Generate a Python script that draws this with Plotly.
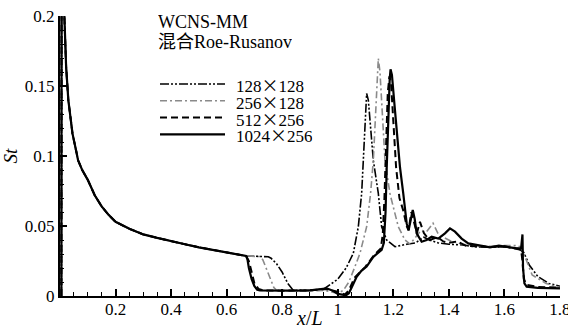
import plotly.graph_objects as go

# Common leading-edge part (identical for all grids)
x_common = [0.005, 0.006, 0.014, 0.016, 0.018, 0.022, 0.03, 0.045, 0.06, 0.065, 0.08, 0.1,
            0.125, 0.15, 0.175, 0.2, 0.25, 0.3, 0.35, 0.4, 0.45, 0.5, 0.55, 0.6, 0.65, 0.67]
st_common = [0.0, 0.3, 0.21, 0.2, 0.188, 0.164, 0.14, 0.116, 0.102, 0.097, 0.09, 0.083,
             0.072, 0.064, 0.058, 0.053, 0.048, 0.044, 0.0415, 0.0395, 0.037, 0.0348, 0.033, 0.031, 0.0292, 0.0286]

# 128 x 128
x_128 = [0.7, 0.75, 0.76, 0.78, 0.8, 0.82, 0.84, 0.9, 0.95, 0.97, 1.0, 1.03, 1.056, 1.074, 1.086,
         1.092, 1.098, 1.104, 1.11, 1.12, 1.128, 1.146, 1.158, 1.176, 1.206, 1.248, 1.28, 1.31,
         1.33, 1.36, 1.4, 1.45, 1.5, 1.55, 1.6, 1.65, 1.67, 1.69, 1.72, 1.76, 1.8]
st_128 = [0.0284, 0.028, 0.027, 0.023, 0.017, 0.009, 0.004, 0.004, 0.005, 0.008, 0.012, 0.02, 0.0305,
          0.0495, 0.0733, 0.097, 0.125, 0.1448, 0.14, 0.115, 0.097, 0.0733, 0.0495, 0.04, 0.0352,
          0.037, 0.038, 0.042, 0.04, 0.038, 0.037, 0.0365, 0.035, 0.035, 0.035, 0.034, 0.031, 0.022,
          0.014, 0.009, 0.007]

# 256 x 128
x_256 = [0.72, 0.73, 0.74, 0.75, 0.76, 0.77, 0.78, 0.85, 0.95, 0.98, 1.0, 1.02, 1.04, 1.06, 1.08,
         1.104, 1.118, 1.128, 1.135, 1.142, 1.146, 1.152, 1.16, 1.17, 1.188, 1.218, 1.242, 1.26,
         1.28, 1.3, 1.32, 1.343, 1.36, 1.38, 1.41, 1.45, 1.5, 1.55, 1.6, 1.64, 1.66, 1.68, 1.7,
         1.75, 1.79, 1.8]
st_256 = [0.0282, 0.026, 0.021, 0.016, 0.01, 0.006, 0.004, 0.0035, 0.004, 0.003, 0.002, 0.004,
          0.01, 0.02, 0.0305, 0.0495, 0.073, 0.097, 0.13, 0.16, 0.1698, 0.16, 0.13, 0.097, 0.073,
          0.0495, 0.04, 0.037, 0.042, 0.047, 0.046, 0.052, 0.045, 0.042, 0.039, 0.037, 0.036,
          0.0355, 0.036, 0.036, 0.035, 0.025, 0.015, 0.009, 0.0065, 0.006]

# 512 x 256
x_512 = [0.68, 0.69, 0.7, 0.715, 0.73, 0.8, 0.9, 0.94, 0.96, 1.0, 1.025, 1.04, 1.06, 1.1, 1.13,
         1.155, 1.162, 1.168, 1.174, 1.18, 1.186, 1.192, 1.2, 1.21, 1.222, 1.236, 1.248, 1.255,
         1.265, 1.275, 1.285, 1.296, 1.31, 1.33, 1.36, 1.38, 1.4, 1.43, 1.46, 1.5, 1.55, 1.6,
         1.64, 1.66, 1.665, 1.67, 1.68, 1.72, 1.8]
st_512 = [0.025, 0.016, 0.009, 0.005, 0.004, 0.0038, 0.004, 0.0048, 0.005, 0.003, 0.001, 0.004,
          0.013, 0.021, 0.029, 0.034, 0.044, 0.07, 0.11, 0.145, 0.157, 0.152, 0.125, 0.092, 0.07,
          0.061, 0.05, 0.047, 0.06, 0.052, 0.045, 0.053, 0.045, 0.04, 0.042, 0.039, 0.038, 0.039,
          0.036, 0.0355, 0.035, 0.0355, 0.034, 0.033, 0.025, 0.012, 0.008, 0.0065, 0.006]

# 1024 x 256
x_1024 = [0.675, 0.68, 0.69, 0.7, 0.71, 0.72, 0.8, 0.9, 0.94, 0.96, 0.98, 1.0, 1.03, 1.04, 1.05,
          1.068, 1.085, 1.104, 1.128, 1.158, 1.166, 1.172, 1.176, 1.182, 1.187, 1.19, 1.195,
          1.205, 1.215, 1.224, 1.236, 1.248, 1.255, 1.262, 1.27, 1.277, 1.284, 1.302, 1.32,
          1.338, 1.362, 1.386, 1.404, 1.422, 1.446, 1.47, 1.5, 1.548, 1.58, 1.61, 1.645, 1.66,
          1.663, 1.665, 1.667, 1.672, 1.68, 1.72, 1.8]
st_1024 = [0.026, 0.02, 0.012, 0.007, 0.0045, 0.004, 0.0038, 0.004, 0.005, 0.0055, 0.004, 0.0015,
           0.0005, 0.002, 0.006, 0.0138, 0.018, 0.021, 0.028, 0.033, 0.038, 0.06, 0.09, 0.13,
           0.155, 0.162, 0.158, 0.135, 0.11, 0.092, 0.073, 0.052, 0.047, 0.055, 0.0614, 0.055,
           0.0448, 0.0388, 0.04, 0.0424, 0.041, 0.0448, 0.0483, 0.046, 0.041, 0.0376, 0.0364,
           0.0348, 0.036, 0.035, 0.034, 0.034, 0.044, 0.044, 0.02, 0.009, 0.0067, 0.0058, 0.0055]

grid_names = ["128×128", "256×128", "512×256", "1024×256"]
title_lines = ["WCNS-MM", "混合Roe-Rusanov"]
x_tick_vals = [0, 0.2, 0.4, 0.6, 0.8, 1, 1.2, 1.4, 1.6, 1.8]
x_tick_text = ["", "0.2", "0.4", "0.6", "0.8", "1", "1.2", "1.4", "1.6", "1.8"]
y_tick_vals = [0, 0.05, 0.1, 0.15, 0.2]
y_tick_text = ["0", "0.05", "0.1", "0.15", "0.2"]

serif = "Liberation Serif, Times New Roman, serif"
cjk_x = '<span style="font-family:Noto Sans CJK SC">×</span>'

styles = [
    dict(color="black", width=1.6, dash="9px,2px,2px,2px,2px,2px"),
    dict(color="#8a8a8a", width=1.6, dash="7px,3px,2px,3px"),
    dict(color="black", width=2, dash="7px,4px"),
    dict(color="black", width=2.2, dash="solid"),
]
data = [(x_128, st_128), (x_256, st_256), (x_512, st_512), (x_1024, st_1024)]

fig = go.Figure()
for name, (xs, ys), ln in zip(grid_names, data, styles):
    fig.add_trace(go.Scatter(x=x_common + xs, y=st_common + ys, mode="lines", name=name,
                             line=ln, showlegend=False))

# plot area in px: x 60..560, y 16..296
def px_x(p):
    return (p - 60) / 500.0

def px_y(p):
    return (296 - p) / 280.0

# title block
for i, t in enumerate(title_lines):
    fig.add_annotation(text=t, xref="paper", yref="paper", x=px_x(156), y=px_y(22 + 20 * i),
                       xanchor="left", yanchor="middle", showarrow=False, height=20,
                       font=dict(family="Liberation Serif, Noto Sans CJK SC, serif", size=18, color="black"))

# manual legend
for i, (name, ln) in enumerate(zip(grid_names, styles)):
    yy = px_y(84 + 16.8 * i)
    fig.add_shape(type="line", xref="paper", yref="paper", x0=px_x(160), x1=px_x(225), y0=yy, y1=yy,
                  line=dict(color=ln["color"], width=ln["width"], dash=ln["dash"]))
    fig.add_annotation(text=name.replace("×", cjk_x), xref="paper", yref="paper", x=px_x(234), y=yy,
                       xanchor="left", yanchor="middle", showarrow=False, height=16,
                       font=dict(family=serif, size=17, color="black"))

# x-axis title
fig.add_annotation(text="<i>x</i>/<i>L</i>", xref="paper", yref="paper", x=px_x(309), y=px_y(318),
                   xanchor="center", yanchor="middle", showarrow=False, height=22,
                   font=dict(family=serif, size=20, color="black"))

fig.update_layout(
    width=568, height=330,
    margin=dict(l=60, r=8, t=16, b=34, autoexpand=False),
    paper_bgcolor="white", plot_bgcolor="white",
    font=dict(family=serif, size=17, color="black"),
    showlegend=False,
)

fig.update_xaxes(range=[0, 1.8001], tickvals=x_tick_vals, ticktext=x_tick_text,
                 showline=True, linewidth=2, linecolor="black",
                 ticks="inside", ticklen=7, tickwidth=2, tickcolor="black", showgrid=False,
                 zeroline=False, mirror=False, ticklabelstandoff=-3, ticklabeloverflow="allow",
                 minor=dict(dtick=0.05, tick0=0, ticks="inside", ticklen=4, tickwidth=1, tickcolor="black"),
                 tickfont=dict(family=serif, size=17, color="black"))
fig.update_yaxes(range=[0, 0.2001], tickvals=y_tick_vals, ticktext=y_tick_text,
                 showline=True, linewidth=2, linecolor="black",
                 ticks="inside", ticklen=7, tickwidth=2, tickcolor="black", showgrid=False,
                 zeroline=False, mirror=False,
                 minor=dict(dtick=0.01, tick0=0, ticks="inside", ticklen=4, tickwidth=1, tickcolor="black"),
                 title=dict(text="<i>St</i>", font=dict(family=serif, size=19), standoff=12),
                 tickfont=dict(family=serif, size=17, color="black"))

fig.write_html("out.html")
